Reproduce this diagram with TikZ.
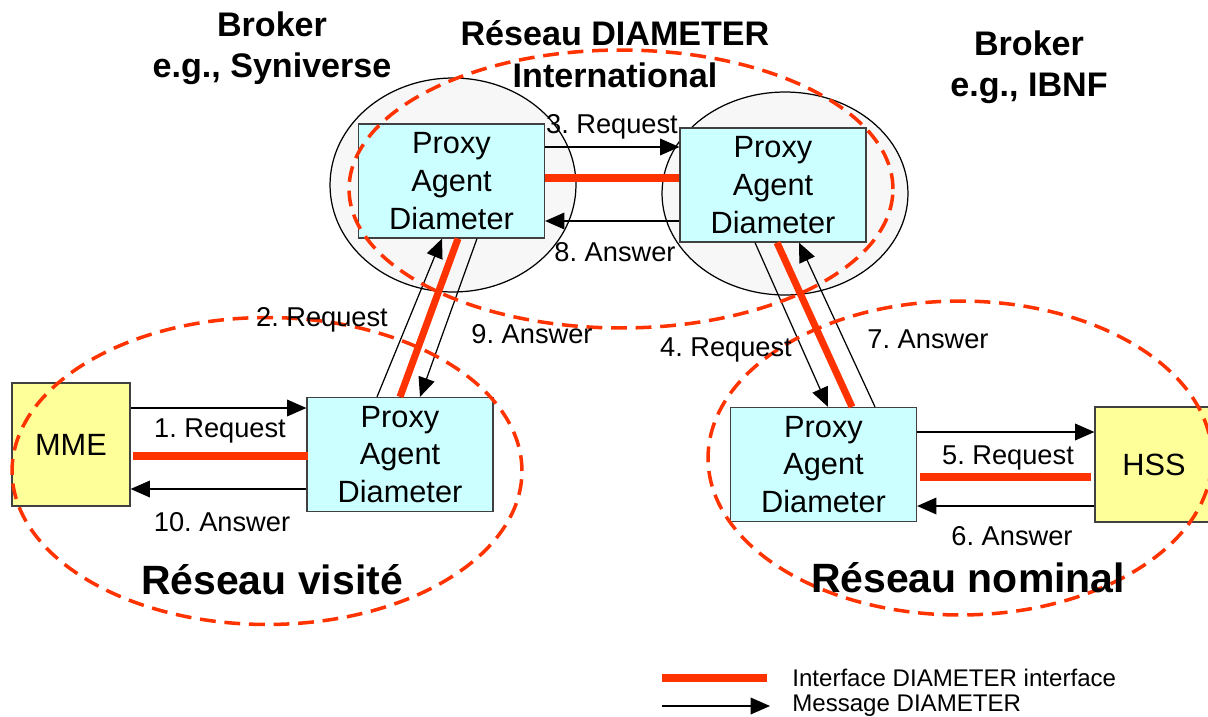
\documentclass[tikz,border=0pt]{standalone}
\usepackage{fontspec}
\setmainfont{Liberation Sans}
\usepackage{xcolor}
\usepackage{tikz}
\usetikzlibrary{arrows.meta, calc, shapes.geometric}
\definecolor{diamred}{HTML}{FF3300}
\definecolor{agentblue}{HTML}{CCFFFF}
\definecolor{peeryellow}{HTML}{FFFF99}
\definecolor{brokergray}{HTML}{F7F7F7}
\newcommand{\agent}{Proxy\\Agent\\Diameter}
\frenchspacing

\begin{document}
\begin{tikzpicture}[
		x=0.02cm, y=-0.02cm,
		>={Triangle[length=11pt, width=9.5pt]},
		proxy/.style={rectangle, draw=black!75, line width=0.7pt, fill=agentblue, minimum width=3.72cm, minimum height=2.28cm, inner sep=0pt, align=center, font=\fontsize{17.5}{21.4}\selectfont},
		peer/.style={rectangle, draw=black!75, line width=0.7pt, fill=peeryellow, minimum width=2.36cm, inner sep=0pt, font=\fontsize{17.5}{21.4}\selectfont},
		broker/.style={ellipse, draw, line width=0.7pt, fill=brokergray, inner sep=0pt},
		network/.style={ellipse, draw=diamred, line width=2pt, dash pattern=on 9pt off 5pt, inner sep=0pt},
		msg/.style={->, line width=0.7pt},
		iface/.style={draw=diamred, line width=4pt},
		msglabel/.style={inner sep=0pt, font=\fontsize{15.5}{18}\selectfont},
		brokertitle/.style={inner sep=0pt, align=center, font=\bfseries\fontsize{19.4}{23.6}\selectfont},
		netname/.style={inner sep=0pt, font=\bfseries\fontsize{23.3}{28}\selectfont},
		legendtext/.style={inner sep=0pt, anchor=west, font=\fontsize{13.7}{16}\selectfont}]
	
	\useasboundingbox (0,0) rectangle (1208,717);
	
	% brokers
	\node[broker, minimum width=4.92cm, minimum height=4.28cm] (syniverse) at (453,185) {};
	\node[broker, minimum width=4.92cm, minimum height=4.06cm] (ibnf) at (785,193.5) {};
	
	% agents and end points
	\node[peer, minimum height=2.46cm] (mme) at (71,444.5) {MME};
	\node[proxy] (pa3) at (400,454.5) {\agent};
	\node[proxy] (pa1) at (451.5,181) {\agent};
	\node[proxy] (pa2) at (773,185) {\agent};
	\node[proxy] (pa4) at (823.5,464.5) {\agent};
	\node[peer, minimum height=2.3cm] (hss) at (1154,464.5) {HSS};
	
	% visited side
	\draw	($(mme.east)+(0,-36.5)$) edge[msg] ($(pa3.west)+(0,-46.5)$)
			($(pa3.west)+(0,34.5)$) edge[msg] ($(mme.east)+(0,44.5)$);
	\draw[iface] ($(mme.east)+(2,11.5)$) -- ($(pa3.west)+(2,1.5)$);
	
	\draw	($(pa3.north)+(-23,0)$) edge[msg] ($(pa1.south)+(-9.5,0)$)
			($(pa1.south)+(25.5,0)$) edge[msg] ($(pa3.north)+(20,0)$);
	\draw[iface] (pa3.north) -- ($(pa1.south)+(6.5,0)$);
	
	% between brokers
	\draw	($(pa1.east)+(0,-34)$) edge[msg] ($(pa2.west)+(0,-38)$)
			($(pa2.west)+(0,36)$) edge[msg] ($(pa1.east)+(0,40)$);
	\draw[iface] ($(pa1.east)+(0,-3)$) -- ($(pa2.west)+(0,-7)$);
	
	% home side
	\draw	($(pa2.south)+(-18,0)$) edge[msg] ($(pa4.north)+(4.5,0)$)
			($(pa4.north)+(51.5,0)$) edge[msg] ($(pa2.south)+(26,0)$);
	\draw[iface] ($(pa2.south)+(4,0)$) -- ($(pa4.north)+(28.5,0)$);
	
	\draw	($(pa4.east)+(0,-32.5)$) edge[msg] ($(hss.west)+(0,-32.5)$)
			($(hss.west)+(0,41.5)$) edge[msg] ($(pa4.east)+(0,41.5)$);
	\draw[iface] ($(pa4.east)+(3,12.5)$) -- ($(hss.west)+(-3,12.5)$);
	
	% networks
	\node[network, minimum width=10.88cm, minimum height=5.56cm] (international) at (621,189) {};
	\node[network, minimum width=10.2cm, minimum height=6.14cm] (visited) at (267,471) {};
	\node[network, minimum width=10.08cm, minimum height=6.28cm] (home) at (960,458) {};
	
	% message labels
	\node[msglabel] (req1) at (220,431) {1. Request};
	\node[msglabel] (req2) at (322,320) {2. Request};
	\node[msglabel] (req3) at (612,127) {3. Request};
	\node[msglabel] (req4) at (726,350) {4. Request};
	\node[msglabel] (req5) at (1008,458) {5. Request};
	\node[msglabel] (ans6) at (1012,536) {6. Answer};
	\node[msglabel] (ans7) at (928,339) {7. Answer};
	\node[msglabel] (ans8) at (615,252) {8. Answer};
	\node[msglabel] (ans9) at (532,334) {9. Answer};
	\node[msglabel] (ans10) at (222,522) {10. Answer};
	
	% titles
	\node[brokertitle] (synititle) at (272,48) {Broker\\e.g., Syniverse};
	\node[brokertitle] (inttitle) at (615,54) {Réseau DIAMETER\\International};
	\node[brokertitle] (ibnftitle) at (1029,67) {Broker\\e.g., IBNF};
	\node[netname] (visitedname) at (272,580) {Réseau visité};
	\node[netname] (homename) at (968,578) {Réseau nominal};
	
	% legend
	\coordinate (ifstart) at (662,678);
	\coordinate (msgstart) at (662,706);
	\node[legendtext] (iftext) at (792,678) {Interface DIAMETER interface};
	\node[legendtext] (msgtext) at (792,706) {Message DIAMETER};
	\draw[iface] (ifstart) -- ($(iftext.west)+(-25,0)$);
	\draw[msg] (msgstart) -- ($(msgtext.west)+(-22,0)$);
	
\end{tikzpicture}
\end{document}
